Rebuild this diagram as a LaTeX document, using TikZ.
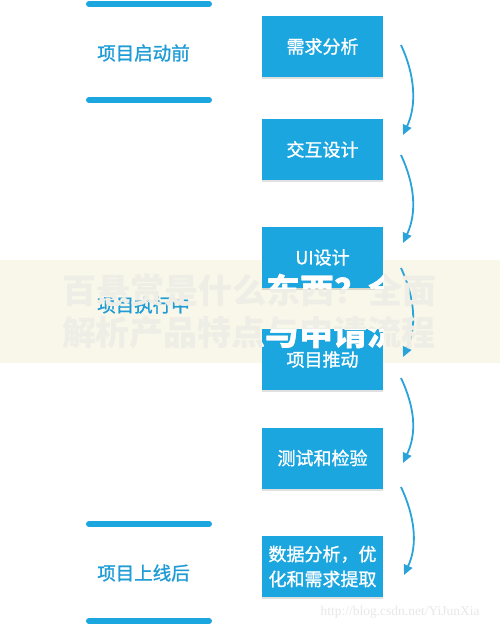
\documentclass[tikz,border=0pt]{standalone}
\usepackage{fontspec}
\newfontfamily\cjk{Noto Sans CJK SC}
\newfontfamily\cjkmed[FakeBold=1.2]{Noto Sans CJK SC}
\newfontfamily\wmfont{Liberation Serif}
\usetikzlibrary{arrows.meta,shadows}
\definecolor{boxblue}{HTML}{1BA6E0}
\definecolor{labelblue}{HTML}{1F9BD6}
\definecolor{arrowblue}{HTML}{2AA3DB}
\definecolor{cream}{HTML}{F8F7EA}
\definecolor{bannertext}{HTML}{EFEEE6}
\definecolor{wmgray}{HTML}{E8E8E8}
\begin{document}
\begin{tikzpicture}[x=1pt,y=-1pt,
  stepbox/.style={fill=boxblue, text=white, minimum width=121pt, minimum height=61pt,
    inner sep=0pt, align=center, font=\cjkmed\fontsize{18}{25}\selectfont,
    drop shadow={shadow xshift=0pt, shadow yshift=-2pt, opacity=0.12, fill=black}},
  phase/.style={text=labelblue, inner sep=0pt, font=\cjkmed\fontsize{18.5}{22}\selectfont},
  bar/.style={draw=boxblue, line width=6pt, line cap=round},
  flow/.style={draw=arrowblue, line width=1.8pt, -{Triangle[length=10pt,width=9pt]}},
  bannerfont/.style={inner sep=0pt, font=\cjk\bfseries\fontsize{34}{40}\selectfont}]
\useasboundingbox (0,0) rectangle (500,625);
\fill[white] (0,0) rectangle (500,625);
% banner band
\fill[cream] (0,260) rectangle (500,363);
% left bars
\coordinate (l1a) at (89,4);   \coordinate (l1b) at (209,4);
\coordinate (l2a) at (89,100); \coordinate (l2b) at (209,100);
\coordinate (l3a) at (89,524); \coordinate (l3b) at (209,524);
\coordinate (l4a) at (89,621); \coordinate (l4b) at (209,621);
\draw[bar] (l1a) -- (l1b);
\draw[bar] (l2a) -- (l2b);
\draw[bar] (l3a) -- (l3b);
\draw[bar] (l4a) -- (l4b);
% phase labels
\node[phase] (p1) at (143.5,53) {项目启动前};
\node[phase] (p2) at (143.5,305) {项目执行中};
\node[phase] (p3) at (143.5,573) {项目上线后};
% boxes
\node[stepbox] (b1) at (322.5,46.5) {需求分析};
\node[stepbox] (b2) at (322.5,149.5) {交互设计};
\node[stepbox] (b3) at (322.5,257.5) {UI设计};
\node[stepbox] (b4) at (322.5,359.5) {项目推动};
\node[stepbox] (b5) at (322.5,458) {测试和检验};
\node[stepbox] (b6) at (322.5,566.5) {数据分析，优\\化和需求提取};
% arrows
\coordinate (a1s) at (401,45);  \coordinate (a1e) at (403,135);
\coordinate (a2s) at (401,155); \coordinate (a2e) at (403,243);
\coordinate (a3s) at (401,268); \coordinate (a3e) at (403,357);
\coordinate (a4s) at (401,378); \coordinate (a4e) at (403,463);
\coordinate (a5s) at (401,487); \coordinate (a5e) at (404,575);
\draw[flow] (a1s) .. controls +(14,30) and +(14,-30) .. (a1e);
\draw[flow] (a2s) .. controls +(14,30) and +(14,-30) .. (a2e);
\draw[flow] (a3s) .. controls +(14,30) and +(14,-30) .. (a3e);
\draw[flow] (a4s) .. controls +(14,30) and +(14,-30) .. (a4e);
\draw[flow] (a5s) .. controls +(14,30) and +(14,-30) .. (a5e);
% banner text
\node[bannerfont, text=bannertext] (bt1) at (250,290) {百悬赏是什么东西？全面};
\node[bannerfont, text=bannertext] (bt2) at (249,333) {解析产品特点与申请流程};
\begin{scope}
  \clip (b3.north west) rectangle (b3.south east) (b4.north west) rectangle (b4.south east);
  \node[bannerfont, text=white] at (250,290) {百悬赏是什么东西？全面};
  \node[bannerfont, text=white] at (249,333) {解析产品特点与申请流程};
\end{scope}
% watermark
\node[text=wmgray, inner sep=0pt, font=\wmfont\fontsize{13.5}{16}\selectfont] (wm) at (400,612) {http://blog.csdn.net/YiJunXia};
\end{tikzpicture}
\end{document}
